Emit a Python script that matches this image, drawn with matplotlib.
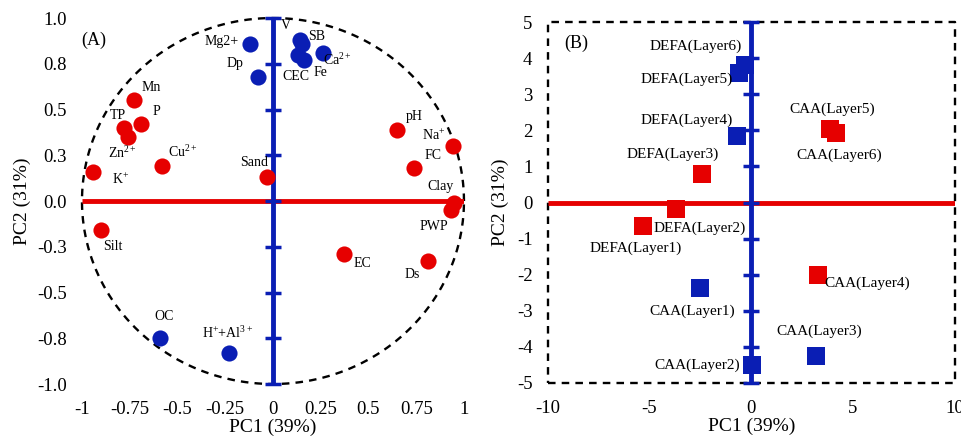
import matplotlib
matplotlib.use("Agg")
import matplotlib.pyplot as plt
import numpy as np

plt.rcParams['font.family'] = ['Liberation Serif', 'DejaVu Serif']
plt.rcParams['mathtext.fontset'] = 'custom'
plt.rcParams['mathtext.rm'] = 'Liberation Serif'
plt.rcParams['mathtext.it'] = 'Liberation Serif'
plt.rcParams['axes.unicode_minus'] = False

RED = '#e60000'
BLUE = '#0a1eb4'

# ---- panel A: variable loadings ----
red_names = ['Mn', 'P', 'TP', 'Zn$^{2+}$', 'K$^{+}$', 'Cu$^{2+}$', 'Sand', 'pH',
             'Na$^{+}$', 'FC', 'Clay', 'PWP', 'EC', 'Ds', 'Silt']
red_x = [-0.73, -0.69, -0.78, -0.76, -0.94, -0.58, -0.03, 0.65,
         0.94, 0.74, 0.95, 0.93, 0.37, 0.81, -0.90]
red_y = [0.55, 0.42, 0.40, 0.35, 0.16, 0.19, 0.13, 0.39,
         0.30, 0.18, -0.01, -0.05, -0.29, -0.33, -0.16]
red_lx = [-0.64, -0.61, -0.81, -0.79, -0.80, -0.47, -0.10, 0.74,
          0.84, 0.84, 0.88, 0.84, 0.47, 0.73, -0.84]
red_ly = [0.62, 0.49, 0.47, 0.26, 0.12, 0.27, 0.21, 0.46,
          0.36, 0.25, 0.08, -0.14, -0.34, -0.40, -0.25]

blue_names = ['Mg2+', 'Dp', 'V', 'SB', 'CEC', 'Fe', 'Ca$^{2+}$', 'OC', 'H$^{+}$+Al$^{3+}$']
blue_x = [-0.12, -0.08, 0.14, 0.15, 0.13, 0.16, 0.26, -0.59, -0.23]
blue_y = [0.86, 0.68, 0.88, 0.86, 0.80, 0.77, 0.81, -0.75, -0.83]
blue_lx = [-0.27, -0.20, 0.07, 0.23, 0.12, 0.25, 0.34, -0.57, -0.24]
blue_ly = [0.87, 0.75, 0.96, 0.90, 0.68, 0.70, 0.77, -0.63, -0.72]

a_ticks = [-1, -0.75, -0.5, -0.25, 0, 0.25, 0.5, 0.75, 1]
a_xlabels = ['-1', '-0.75', '-0.5', '-0.25', '0', '0.25', '0.5', '0.75', '1']
a_ylabels = ['-1.0', '-0.8', '-0.5', '-0.3', '0.0', '0.3', '0.5', '0.8', '1.0']

# ---- panel B: sample scores ----
b_red_names = ['DEFA(Layer3)', 'DEFA(Layer2)', 'DEFA(Layer1)', 'CAA(Layer5)',
               'CAA(Layer6)', 'CAA(Layer4)']
b_red_x = [-2.4, -3.7, -5.3, 3.85, 4.15, 3.3]
b_red_y = [0.8, -0.17, -0.66, 2.03, 1.93, -2.0]
b_red_lx = [-3.85, -2.54, -5.66, 4.0, 4.34, 5.7]
b_red_ly = [1.33, -0.72, -1.28, 2.58, 1.31, -2.25]

b_blue_names = ['DEFA(Layer6)', 'DEFA(Layer5)', 'DEFA(Layer4)', 'CAA(Layer1)',
                'CAA(Layer3)', 'CAA(Layer2)']
b_blue_x = [-0.3, -0.6, -0.7, -2.5, 3.2, 0.05]
b_blue_y = [3.8, 3.6, 1.83, -2.36, -4.25, -4.5]
b_blue_lx = [-2.73, -3.17, -3.17, -2.88, 3.34, -2.68]
b_blue_ly = [4.33, 3.42, 2.28, -3.0, -3.56, -4.5]

b_xticks = [-10, -5, 0, 5, 10]
b_yticks = [-5, -4, -3, -2, -1, 0, 1, 2, 3, 4, 5]


def style_axes(ax):
    for s in ax.spines.values():
        s.set_visible(False)
    ax.tick_params(length=0, labelsize=13.5)
    ax.tick_params(axis='x', pad=12)
    ax.tick_params(axis='y', pad=11)


fig = plt.figure(figsize=(9.61, 4.42), dpi=100)
dash = (0, (3.2, 2.6))

# panel A
axA = fig.add_axes([0.0853, 0.1312, 0.3975, 0.828])
style_axes(axA)
axA.set_xlim(-1, 1)
axA.set_ylim(-1, 1)
theta = np.linspace(0, 2 * np.pi, 400)
axA.plot(np.cos(theta), np.sin(theta), ls=dash, color='black', lw=1.7, zorder=1, clip_on=False)
axA.plot([-1, 1], [0, 0], color=RED, lw=3.5, zorder=2, solid_capstyle='butt')
axA.plot([0, 0], [-1, 1], color=BLUE, lw=3.5, zorder=2, solid_capstyle='butt', clip_on=False)
axA.plot(np.zeros(len(a_ticks)), a_ticks, ls='none', marker='_', ms=12, mew=2.5, color=BLUE,
         zorder=2, clip_on=False)
axA.scatter(red_x, red_y, s=135, color=RED, zorder=3, linewidths=0)
axA.scatter(blue_x, blue_y, s=135, color=BLUE, zorder=3, linewidths=0)
for n, x, y in zip(red_names + blue_names, red_lx + blue_lx, red_ly + blue_ly):
    axA.text(x, y, n, ha='center', va='center', fontsize=10, zorder=4)
axA.text(-0.94, 0.88, '(A)', ha='center', va='center', fontsize=13)
axA.set_xticks(a_ticks, a_xlabels)
axA.set_yticks(a_ticks, a_ylabels)
axA.set_xlabel('PC1 (39%)', fontsize=14, labelpad=1)
axA.set_ylabel('PC2 (31%)', fontsize=14, labelpad=4)

# panel B
axB = fig.add_axes([0.570, 0.1335, 0.4235, 0.8167])
style_axes(axB)
axB.set_xlim(-10, 10)
axB.set_ylim(-5, 5)
axB.plot([-10, 10, 10, -10, -10], [-5, -5, 5, 5, -5], ls=dash, color='black',
         lw=1.7, zorder=1, clip_on=False)
axB.plot([-10, 10], [0, 0], color=RED, lw=3.5, zorder=2, solid_capstyle='butt')
axB.plot([0, 0], [-5, 5], color=BLUE, lw=3.5, zorder=2, solid_capstyle='butt', clip_on=False)
axB.plot(np.zeros(len(b_yticks)), b_yticks, ls='none', marker='_', ms=12, mew=2.5, color=BLUE,
         zorder=2, clip_on=False)
axB.scatter(b_red_x, b_red_y, s=155, marker='s', color=RED, zorder=3, linewidths=0)
axB.scatter(b_blue_x, b_blue_y, s=155, marker='s', color=BLUE, zorder=3, linewidths=0)
for n, x, y in zip(b_red_names + b_blue_names, b_red_lx + b_blue_lx, b_red_ly + b_blue_ly):
    axB.text(x, y, n, ha='center', va='center', fontsize=11, zorder=4)
axB.text(-8.6, 4.4, '(B)', ha='center', va='center', fontsize=13)
axB.set_xticks(b_xticks)
axB.set_yticks(b_yticks)
axB.set_xlabel('PC1 (39%)', fontsize=14, labelpad=1)
axB.set_ylabel('PC2 (31%)', fontsize=14, labelpad=6)

fig.savefig('out.png', dpi=100)
